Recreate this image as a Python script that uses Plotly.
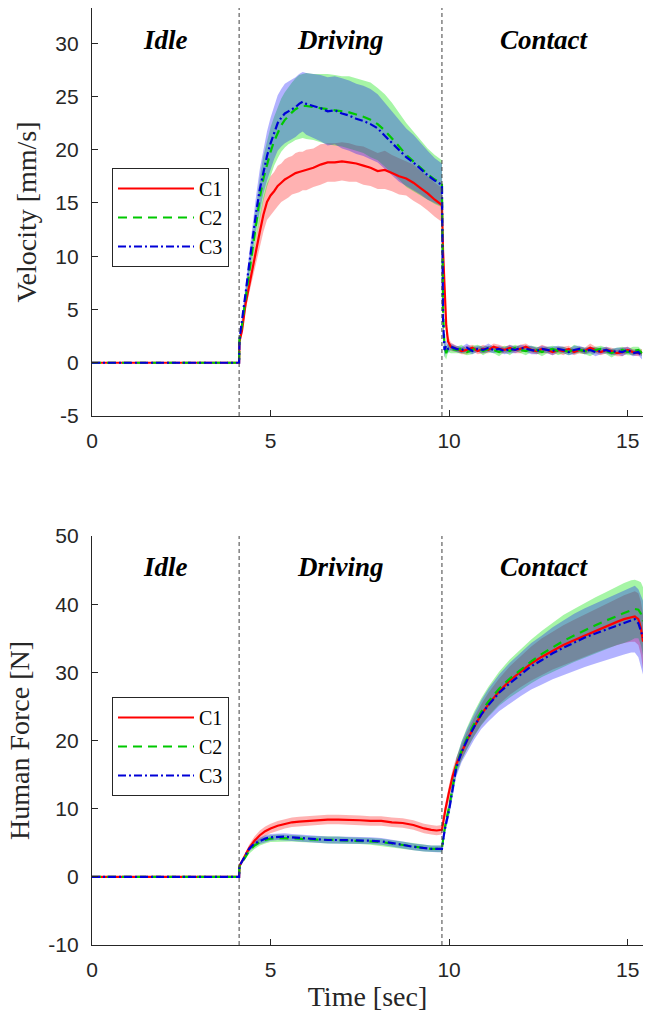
import plotly.graph_objects as go

# ---------------- data ----------------
series_names = ["C1", "C2", "C3"]
phase_labels = ["Idle", "Driving", "Contact"]
phase_label_t = [2.05, 6.95, 12.66]
phase_bounds = [4.12, 9.8]

x_ticks = [0, 5, 10, 15]
x_ticktext = ["0", "5", "10", "15"]
vel_ticks = [-5, 0, 5, 10, 15, 20, 25, 30]
vel_ticktext = ["-5", "0", "5", "10", "15", "20", "25", "30"]
force_ticks = [-10, 0, 10, 20, 30, 40, 50]
force_ticktext = ["-10", "0", "10", "20", "30", "40", "50"]

t_vel = [0.0, 4.12,
         4.13, 4.2, 4.3, 4.4, 4.5, 4.6, 4.7, 4.8, 4.9,
         5.0, 5.1, 5.2, 5.3, 5.4, 5.5, 5.6, 5.7, 5.8, 5.9,
         6.0, 6.2, 6.4, 6.6, 6.8, 7.0, 7.2, 7.4, 7.6, 7.8,
         8.0, 8.2, 8.4, 8.6, 8.8, 9.0, 9.2, 9.4, 9.6, 9.8,
         9.83, 9.87, 9.92, 9.97, 10.05,
         10.2, 10.35, 10.5, 10.65, 10.8, 10.95, 11.1, 11.25, 11.4, 11.55,
         11.7, 11.85, 12.0, 12.15, 12.3, 12.45, 12.6, 12.75, 12.9, 13.05,
         13.2, 13.35, 13.5, 13.65, 13.8, 13.95, 14.1, 14.25, 14.4, 14.55,
         14.7, 14.85, 15.0, 15.15, 15.3, 15.4]

vel_c1_mean = [0.0, 0.0,
               2.0, 3.0, 5.5, 7.3, 9.0, 10.6, 12.3, 13.9, 15.1,
               15.7, 16.1, 16.6, 16.9, 17.2, 17.4, 17.6, 17.8, 17.9, 18.0,
               18.1, 18.3, 18.6, 18.8, 18.8, 18.9, 18.8, 18.7, 18.5, 18.3,
               18.0, 18.1, 17.8, 17.5, 17.3, 16.9, 16.4, 15.9, 15.3, 14.8,
               10.5, 6.5, 3.5, 2.0, 1.5,
               1.3, 1.1, 1.2, 1.4, 1.1, 1.3, 1.2, 1.5, 1.3, 1.2,
               1.4, 1.2, 1.3, 1.5, 1.2, 1.1, 1.3, 1.2, 1.0, 1.2,
               1.1, 1.3, 1.0, 1.2, 1.1, 1.4, 1.2, 1.0, 1.2, 1.1,
               0.9, 1.0, 1.2, 1.0, 0.9, 1.0]
vel_c1_sd = [0.0, 0.0,
             0.2, 0.4, 0.6, 0.8, 1.0, 1.2, 1.4, 1.6, 1.7,
             1.8, 1.8, 1.9, 1.8, 1.9, 1.9, 1.8, 1.9, 1.9, 1.8,
             1.9, 1.8, 1.9, 1.8, 1.8, 1.8, 1.8, 1.7, 1.8, 1.7,
             1.7, 1.8, 1.7, 1.7, 1.6, 1.7, 1.6, 1.6, 1.6, 1.6,
             1.4, 1.0, 0.7, 0.5, 0.4,
             0.3, 0.3, 0.4, 0.3, 0.3, 0.4, 0.3, 0.3, 0.4, 0.3,
             0.3, 0.3, 0.4, 0.3, 0.3, 0.3, 0.4, 0.3, 0.3, 0.3,
             0.4, 0.3, 0.3, 0.3, 0.3, 0.4, 0.3, 0.3, 0.3, 0.3,
             0.3, 0.4, 0.3, 0.3, 0.3, 0.3]

vel_c2_mean = [0.0, 0.0,
               2.2, 3.5, 6.0, 8.5, 11.0, 13.3, 15.5, 17.3, 18.7,
               19.8, 20.8, 21.6, 22.3, 22.8, 23.2, 23.5, 23.8, 24.0, 24.1,
               24.1, 24.0, 23.9, 23.8, 23.7, 23.6, 23.5, 23.3, 23.1, 22.8,
               22.4, 21.8, 21.1, 20.3, 19.5, 18.9, 18.3, 17.7, 17.2, 16.8,
               5.0, 1.5, 0.9, 1.4, 1.3,
               1.2, 1.3, 1.0, 1.2, 1.4, 1.1, 1.3, 1.2, 1.0, 1.3,
               1.1, 1.4, 1.2, 1.1, 1.3, 1.2, 1.0, 1.2, 1.3, 1.1,
               1.2, 1.0, 1.3, 1.2, 1.1, 1.0, 1.2, 1.3, 1.1, 0.9,
               1.1, 1.2, 1.0, 1.1, 1.2, 0.9]
vel_c2_sd = [0.0, 0.0,
             0.2, 0.4, 0.7, 1.0, 1.3, 1.6, 1.9, 2.1, 2.2,
             2.3, 2.3, 2.4, 2.5, 2.6, 2.7, 2.8, 2.9, 3.0, 3.0,
             3.1, 3.1, 3.2, 3.3, 3.3, 3.3, 3.4, 3.4, 3.4, 3.5,
             3.4, 3.4, 3.3, 3.1, 3.0, 2.8, 2.6, 2.4, 2.3, 2.2,
             1.8, 0.9, 0.6, 0.4, 0.4,
             0.3, 0.4, 0.3, 0.4, 0.3, 0.4, 0.3, 0.3, 0.4, 0.3,
             0.4, 0.3, 0.3, 0.4, 0.3, 0.3, 0.4, 0.3, 0.3, 0.4,
             0.3, 0.3, 0.4, 0.3, 0.3, 0.4, 0.3, 0.3, 0.3, 0.4,
             0.3, 0.3, 0.3, 0.4, 0.3, 0.3]

vel_c3_mean = [0.0, 0.0,
               2.2, 3.8, 6.5, 9.2, 11.8, 14.2, 16.3, 18.0, 19.4,
               20.6, 21.6, 22.5, 23.0, 23.4, 23.6, 23.8, 24.0, 24.3, 24.5,
               24.3, 24.1, 23.9, 23.6, 23.7, 23.4, 23.2, 22.9, 22.7, 22.4,
               22.0, 21.3, 20.6, 19.9, 19.3, 18.8, 18.2, 17.6, 17.1, 16.7,
               4.0, 1.2, 1.6, 1.3, 1.5,
               1.3, 1.2, 1.4, 1.1, 1.3, 1.2, 1.4, 1.2, 1.3, 1.1,
               1.3, 1.2, 1.4, 1.3, 1.2, 1.1, 1.3, 1.2, 1.1, 1.3,
               1.2, 1.0, 1.2, 1.3, 1.1, 1.2, 1.0, 1.1, 1.2, 1.0,
               1.1, 1.0, 1.2, 0.9, 1.0, 0.6]
vel_c3_sd = [0.0, 0.0,
             0.2, 0.4, 0.7, 1.0, 1.3, 1.6, 1.9, 2.1, 2.3,
             2.4, 2.5, 2.6, 2.7, 2.8, 2.8, 2.8, 2.8, 2.8, 2.8,
             2.9, 3.0, 3.1, 3.2, 3.2, 3.3, 3.3, 3.3, 3.3, 3.3,
             3.2, 3.1, 3.0, 2.9, 2.7, 2.6, 2.4, 2.3, 2.1, 2.0,
             1.5, 0.7, 0.5, 0.4, 0.3,
             0.3, 0.3, 0.4, 0.3, 0.3, 0.3, 0.4, 0.3, 0.3, 0.3,
             0.4, 0.3, 0.3, 0.3, 0.4, 0.3, 0.3, 0.3, 0.4, 0.3,
             0.3, 0.3, 0.4, 0.3, 0.3, 0.3, 0.4, 0.3, 0.3, 0.3,
             0.3, 0.4, 0.3, 0.3, 0.3, 0.3]

t_force = [0.0, 4.12,
           4.13, 4.25, 4.4, 4.55, 4.7, 4.85, 5.0, 5.2, 5.4, 5.6,
           5.8, 6.0, 6.3, 6.6, 6.9, 7.2, 7.5, 7.8, 8.1, 8.4,
           8.7, 9.0, 9.3, 9.5, 9.65, 9.8,
           9.85, 9.9, 10.0, 10.1, 10.2, 10.35, 10.5, 10.7, 10.9, 11.1,
           11.4, 11.7, 12.0, 12.3, 12.6, 12.9, 13.2, 13.5, 13.8, 14.1,
           14.4, 14.7, 14.9, 15.1, 15.2, 15.3, 15.37, 15.43]

force_c1_mean = [0.0, 0.0,
                 1.6, 2.8, 4.2, 5.3, 6.1, 6.7, 7.1, 7.5, 7.8, 8.0,
                 8.1, 8.2, 8.3, 8.4, 8.4, 8.4, 8.3, 8.2, 8.2, 8.0,
                 7.9, 7.6, 7.1, 6.9, 6.8, 6.9,
                 8.5, 10.0, 12.5, 14.8, 16.5, 18.3, 20.0, 22.0, 23.8, 25.3,
                 27.2, 28.8, 30.1, 31.3, 32.3, 33.2, 34.0, 34.7, 35.4, 36.1,
                 36.8, 37.4, 37.8, 38.1, 38.2, 37.8, 36.5, 34.5]
force_c1_sd = [0.0, 0.0,
               0.2, 0.4, 0.5, 0.6, 0.7, 0.7, 0.7, 0.7, 0.7, 0.7,
               0.7, 0.7, 0.7, 0.7, 0.7, 0.7, 0.7, 0.7, 0.7, 0.7,
               0.7, 0.7, 0.7, 0.7, 0.7, 0.7,
               0.8, 0.9, 1.0, 1.0, 1.0, 1.1, 1.2, 1.3, 1.5, 1.7,
               1.9, 2.1, 2.3, 2.5, 2.7, 2.8, 2.9, 3.0, 3.1, 3.2,
               3.3, 3.4, 3.5, 3.6, 3.7, 3.8, 3.9, 4.0]

force_c2_mean = [0.0, 0.0,
                 1.5, 2.6, 3.8, 4.6, 5.1, 5.4, 5.6, 5.7, 5.7, 5.7,
                 5.6, 5.5, 5.5, 5.4, 5.4, 5.3, 5.3, 5.2, 5.1, 4.9,
                 4.6, 4.4, 4.2, 4.1, 4.1, 4.1,
                 6.2, 7.8, 10.2, 13.3, 16.2, 18.5, 20.3, 22.4, 24.2, 25.7,
                 27.6, 29.1, 30.4, 31.6, 32.7, 33.7, 34.6, 35.4, 36.2, 36.9,
                 37.6, 38.3, 38.7, 39.1, 39.3, 39.2, 38.6, 37.5]
force_c2_sd = [0.0, 0.0,
               0.2, 0.3, 0.4, 0.5, 0.5, 0.5, 0.5, 0.5, 0.5, 0.5,
               0.5, 0.5, 0.5, 0.5, 0.5, 0.5, 0.5, 0.5, 0.5, 0.5,
               0.5, 0.5, 0.5, 0.5, 0.5, 0.5,
               0.6, 0.8, 1.0, 1.1, 1.2, 1.4, 1.6, 1.8, 2.0, 2.2,
               2.5, 2.8, 3.0, 3.2, 3.4, 3.6, 3.8, 3.9, 4.0, 4.1,
               4.2, 4.3, 4.4, 4.4, 4.3, 4.2, 4.6, 5.0]

force_c3_mean = [0.0, 0.0,
                 1.6, 2.8, 4.1, 4.9, 5.3, 5.6, 5.8, 5.9, 5.9, 5.8,
                 5.7, 5.6, 5.5, 5.4, 5.4, 5.4, 5.3, 5.3, 5.2, 5.0,
                 4.7, 4.4, 4.2, 4.1, 4.1, 4.1,
                 6.0, 7.5, 9.8, 13.0, 16.0, 18.3, 20.0, 22.0, 23.8, 25.2,
                 27.0, 28.4, 29.7, 30.9, 31.8, 32.8, 33.6, 34.4, 35.1, 35.7,
                 36.3, 36.9, 37.3, 37.7, 37.8, 37.2, 36.2, 35.1]
force_c3_sd = [0.0, 0.0,
               0.2, 0.3, 0.4, 0.5, 0.5, 0.5, 0.5, 0.5, 0.5, 0.5,
               0.5, 0.5, 0.5, 0.5, 0.5, 0.5, 0.5, 0.5, 0.5, 0.5,
               0.5, 0.5, 0.5, 0.5, 0.5, 0.5,
               0.6, 0.8, 1.0, 1.2, 1.3, 1.5, 1.7, 1.9, 2.1, 2.4,
               2.7, 3.0, 3.2, 3.4, 3.6, 3.8, 4.0, 4.2, 4.3, 4.4,
               4.5, 4.6, 4.7, 4.8, 4.9, 5.0, 5.2, 5.4]

# ---------------- styles ----------------
line_colors = ["rgb(255,0,0)", "rgb(0,200,0)", "rgb(0,0,215)"]
fill_colors = ["rgba(255,0,0,0.3)", "rgba(0,225,0,0.35)", "rgba(0,0,255,0.3)"]
dashes = ["solid", "9px,6px", "8px,3px,2px,3px"]
AX = "#262626"
SANS = "Liberation Sans, Arial, sans-serif"
SERIF = "Liberation Serif, Times New Roman, serif"

fig = go.Figure()

panels = [
    (t_vel, [(vel_c1_mean, vel_c1_sd), (vel_c2_mean, vel_c2_sd), (vel_c3_mean, vel_c3_sd)], "x", "y", "legend"),
    (t_force, [(force_c1_mean, force_c1_sd), (force_c2_mean, force_c2_sd), (force_c3_mean, force_c3_sd)], "x2", "y2", "legend2"),
]

for t, data, xa, ya, lg in panels:
    for i, (m, s) in enumerate(data):
        upper = [a + b for a, b in zip(m, s)]
        lower = [a - b for a, b in zip(m, s)]
        fig.add_trace(go.Scatter(
            x=list(t) + list(t[::-1]), y=upper + lower[::-1],
            fill="toself", fillcolor=fill_colors[i], line=dict(width=0),
            mode="lines", hoverinfo="skip", showlegend=False, xaxis=xa, yaxis=ya))
    for i, (m, s) in enumerate(data):
        fig.add_trace(go.Scatter(
            x=t, y=m, mode="lines", name=series_names[i],
            line=dict(color=line_colors[i], width=2.2, dash=dashes[i]),
            xaxis=xa, yaxis=ya, legend=lg))

shapes = []
for xa, ya in [("x", "y"), ("x2", "y2")]:
    for b in phase_bounds:
        shapes.append(dict(type="line", xref=xa, yref=ya + " domain", x0=b, x1=b, y0=0, y1=1,
                           line=dict(color="#404040", width=1, dash="4px,3px")))

annotations = []
for ya, yv in [("y", 30.3), ("y2", 45.4)]:
    xa = "x" if ya == "y" else "x2"
    for lab, tx in zip(phase_labels, phase_label_t):
        annotations.append(dict(x=tx, y=yv, xref=xa, yref=ya, text="<b><i>%s</i></b>" % lab,
                                showarrow=False, font=dict(family=SERIF, size=27, color="black")))

W, H = 656, 1016
xdom = [92 / W, 643 / W]
common_x = dict(range=[0, 15.43], tickvals=x_ticks, ticktext=x_ticktext, ticks="inside", ticklen=6,
                tickcolor=AX, showline=True, linecolor=AX, linewidth=1.3, showgrid=False,
                zeroline=False, tickfont=dict(family=SANS, size=21, color=AX), automargin=False,
                ticklabelstandoff=6, domain=xdom)
common_y = dict(ticks="inside", ticklen=6, tickcolor=AX, showline=True, linecolor=AX, linewidth=1.3,
                showgrid=False, zeroline=False, tickfont=dict(family=SANS, size=21, color=AX),
                automargin=False, ticklabelstandoff=8)

legend_common = dict(xanchor="left", yanchor="top", bgcolor="white", bordercolor=AX, borderwidth=1,
                     font=dict(family=SERIF, size=20, color="black"), itemwidth=76, tracegroupgap=0)

fig.update_layout(
    width=W, height=H, margin=dict(l=0, r=0, t=0, b=0),
    paper_bgcolor="white", plot_bgcolor="white", template="none",
    xaxis=dict(anchor="y", **common_x),
    yaxis=dict(anchor="x", domain=[1 - 416 / H, 1 - 8 / H], range=[-5, 33.3],
               tickvals=vel_ticks, ticktext=vel_ticktext,
               title=dict(text="Velocity [mm/s]", font=dict(family=SERIF, size=28, color=AX), standoff=10),
               **common_y),
    xaxis2=dict(anchor="y2",
                title=dict(text="Time [sec]", font=dict(family=SERIF, size=28, color=AX), standoff=6),
                **common_x),
    yaxis2=dict(anchor="x2", domain=[1 - 945 / H, 1 - 536 / H], range=[-10, 50],
                tickvals=force_ticks, ticktext=force_ticktext,
                title=dict(text="Human Force [N]", font=dict(family=SERIF, size=28, color=AX), standoff=10),
                **common_y),
    legend=dict(x=112 / W, y=1 - 168 / H, **legend_common),
    legend2=dict(x=112 / W, y=1 - 697 / H, **legend_common),
    shapes=shapes, annotations=annotations, showlegend=True,
)

fig.write_html("out.html", config={"displayModeBar": False},
               post_script="document.body.style.margin='0';document.body.style.overflow='hidden';")
